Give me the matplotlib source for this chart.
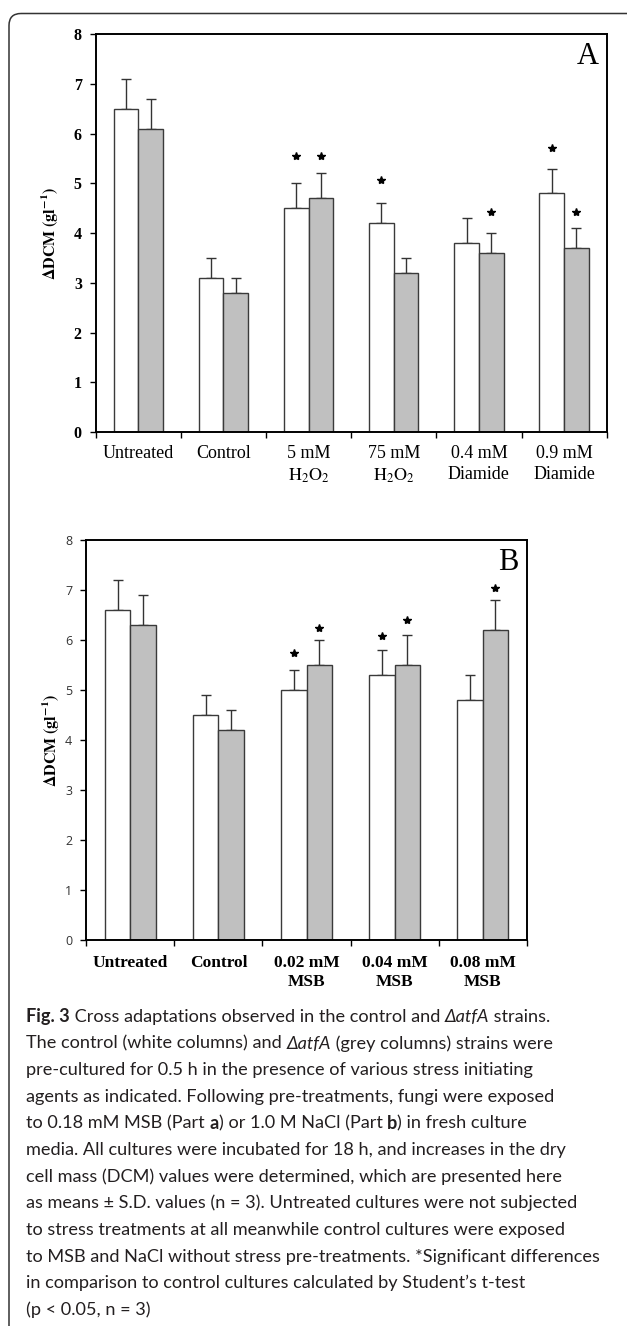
import numpy as np
import matplotlib
matplotlib.use("Agg")
import matplotlib.pyplot as plt
from matplotlib.patches import FancyBboxPatch
from matplotlib.transforms import blended_transform_factory

plt.rcParams['mathtext.fontset'] = 'stix'

# ---------------- data ----------------
catsA = ["Untreated", "Control", "5 mM\n$\\mathrm{H_2O_2}$", "75 mM\n$\\mathrm{H_2O_2}$",
         "0.4 mM\nDiamide", "0.9 mM\nDiamide"]
A_white = [6.5, 3.1, 4.5, 4.2, 3.8, 4.8]
A_grey = [6.1, 2.8, 4.7, 3.2, 3.6, 3.7]
A_white_err = [0.6, 0.4, 0.5, 0.4, 0.5, 0.5]
A_grey_err = [0.6, 0.3, 0.5, 0.3, 0.4, 0.4]
A_white_star = [np.nan, np.nan, 5.56, 5.06, np.nan, 5.72]
A_grey_star = [np.nan, np.nan, 5.56, np.nan, 4.43, 4.43]

catsB = ["Untreated", "Control", "0.02 mM\nMSB", "0.04 mM\nMSB", "0.08 mM\nMSB"]
B_white = [6.6, 4.5, 5.0, 5.3, 4.8]
B_grey = [6.3, 4.2, 5.5, 5.5, 6.2]
B_white_err = [0.6, 0.4, 0.4, 0.5, 0.5]
B_grey_err = [0.6, 0.4, 0.5, 0.6, 0.6]
B_white_star = [np.nan, np.nan, 5.75, 6.09, np.nan]
B_grey_star = [np.nan, np.nan, 6.25, 6.41, 7.04]

yticks = [0, 1, 2, 3, 4, 5, 6, 7, 8]
ylabel = r"$\mathbf{\Delta DCM\ (gl^{-1})}$"

caption_lines = [
    [("Fig. 3", dict(weight='bold')), (" Cross adaptations observed in the control and ", {}),
     ("ΔatfA", dict(style='italic')), (" strains.", {})],
    [("The control (white columns) and ", {}), ("ΔatfA", dict(style='italic')),
     (" (grey columns) strains were", {})],
    [("pre-cultured for 0.5 h in the presence of various stress initiating", {})],
    [("agents as indicated. Following pre-treatments, fungi were exposed", {})],
    [("to 0.18 mM MSB (Part ", {}), ("a", dict(weight='bold')), (") or 1.0 M NaCl (Part ", {}),
     ("b", dict(weight='bold')), (") in fresh culture", {})],
    [("media. All cultures were incubated for 18 h, and increases in the dry", {})],
    [("cell mass (DCM) values were determined, which are presented here", {})],
    [("as means ± S.D. values (n = 3). Untreated cultures were not subjected", {})],
    [("to stress treatments at all meanwhile control cultures were exposed", {})],
    [("to MSB and NaCl without stress pre-treatments. *Significant differences", {})],
    [("in comparison to control cultures calculated by Student’s t-test", {})],
    [("(p < 0.05, n = 3)", {})],
]

# ---------------- figure ----------------
W, H = 627, 1326
fig = plt.figure(figsize=(W / 100, H / 100), dpi=100)
fig.patch.set_facecolor('white')

def fx(x):
    return x / W

def fy(y):
    return 1 - y / H

# overlay in pixel coordinates for the outer rounded frame
bg = fig.add_axes([0, 0, 1, 1], zorder=-1)
bg.set_xlim(0, W)
bg.set_ylim(H, 0)
bg.axis('off')
frame = FancyBboxPatch((9, 13.5), 640 - 9, 1360 - 13.5,
                       boxstyle="round,pad=0,rounding_size=12",
                       fill=False, edgecolor='#333333', linewidth=1.1)
bg.add_patch(frame)

WHITE = 'white'
GREY = '#c0c0c0'
EDGE = '#3a3a3a'
BW = 0.29


def panel(rect, cats, wv, gv, we, ge, ws, gs, letter, letter_xy, ytick_font, xlab_kw,
          xlab_off, xlab_ls, ylab_x):
    l, t, r, b = rect
    ax = fig.add_axes([fx(l), fy(b), fx(r) - fx(l), fy(t) - fy(b)])
    n = len(cats)
    x = np.arange(n)
    ax.bar(x - BW / 2, wv, BW, color=WHITE, edgecolor=EDGE, linewidth=1.0, zorder=2)
    ax.bar(x + BW / 2, gv, BW, color=GREY, edgecolor=EDGE, linewidth=1.0, zorder=2)
    zeros = np.zeros(n)
    ax.errorbar(x - BW / 2, wv, yerr=[zeros, we], fmt='none', ecolor='#333333',
                elinewidth=1.0, capsize=3.5, capthick=1.0, zorder=1)
    ax.errorbar(x + BW / 2, gv, yerr=[zeros, ge], fmt='none', ecolor='#333333',
                elinewidth=1.0, capsize=3.5, capthick=1.0, zorder=1)
    ax.plot(x - BW / 2, ws, linestyle='none', marker='*', color='black', markersize=6, zorder=3)
    ax.plot(x + BW / 2, gs, linestyle='none', marker='*', color='black', markersize=6, zorder=3)
    ax.set_xlim(-0.5, n - 0.5)
    ax.set_ylim(0, 8)
    ax.set_yticks(yticks)
    ax.set_yticklabels([str(v) for v in yticks], **ytick_font)
    ax.set_xticks(np.arange(n + 1) - 0.5)
    ax.set_xticklabels([])
    ax.tick_params(axis='both', direction='out', length=4, width=1.0, color='black')
    ax.tick_params(axis='y', pad=6)
    for s in ax.spines.values():
        s.set_linewidth(1.4)
        s.set_color('black')
    tr = blended_transform_factory(ax.transData, ax.transAxes)
    hpx = b - t
    for i, c in enumerate(cats):
        ax.text(i, -xlab_off / hpx, c, transform=tr, ha='center', va='top',
                linespacing=xlab_ls, **xlab_kw)
    fig.text(fx(letter_xy[0]), fy(letter_xy[1]), letter, ha='center', va='center',
             family='Liberation Serif', fontsize=22, color='black')
    fig.text(fx(ylab_x), fy((t + b) / 2), ylabel, rotation=90, ha='center', va='center',
             fontsize=11.5, color='black')
    return ax


panel((95.7, 34.3, 606.7, 432.0), catsA, A_white, A_grey, A_white_err, A_grey_err,
      A_white_star, A_grey_star, "A", (588, 57),
      dict(family='Liberation Serif', weight='bold', fontsize=11.5, color='black'),
      dict(family='Liberation Serif', fontsize=13, color='black'), 13, 1.3, 50)

panel((86.3, 540.3, 526.7, 940.3), catsB, B_white, B_grey, B_white_err, B_grey_err,
      B_white_star, B_grey_star, "B", (508, 562),
      dict(family='Open Sans', fontsize=9, color='#333333'),
      dict(family='Liberation Serif', weight='bold', fontsize=12.5, color='black'), 15, 1.2, 51)

# ---------------- caption ----------------
renderer = fig.canvas.get_renderer()
CAP_FONT = ['Lato', 'DejaVu Sans']
CAP_COLOR = '#231f20'


def text_width(s, fs, kw):
    t1 = fig.text(0, 0, s + '|', family=CAP_FONT, fontsize=fs, **kw)
    t2 = fig.text(0, 0, '|', family=CAP_FONT, fontsize=fs, **kw)
    w = t1.get_window_extent(renderer).width - t2.get_window_extent(renderer).width
    t1.remove()
    t2.remove()
    return w


def line_width(runs, fs):
    return sum(text_width(s, fs, kw) for s, kw in runs)


# fit the font size so the caption lines end where the reference lines end
w_l8 = line_width(caption_lines[7], 10)
w_l10 = line_width(caption_lines[9], 10)
cap_fs = min(10 * 588.0 / w_l8, 10 * 576.0 / w_l10)

x0 = 26
y_first = 1016.7
dy = 26.6
for li, runs in enumerate(caption_lines):
    xb = x0
    yb = y_first + li * dy + 5.5
    for s, kw in runs:
        fig.text(fx(xb), fy(yb), s, family=CAP_FONT, fontsize=cap_fs, color=CAP_COLOR,
                 ha='left', va='baseline', **kw)
        xb += text_width(s, cap_fs, kw)

fig.savefig("out.png", dpi=100)
